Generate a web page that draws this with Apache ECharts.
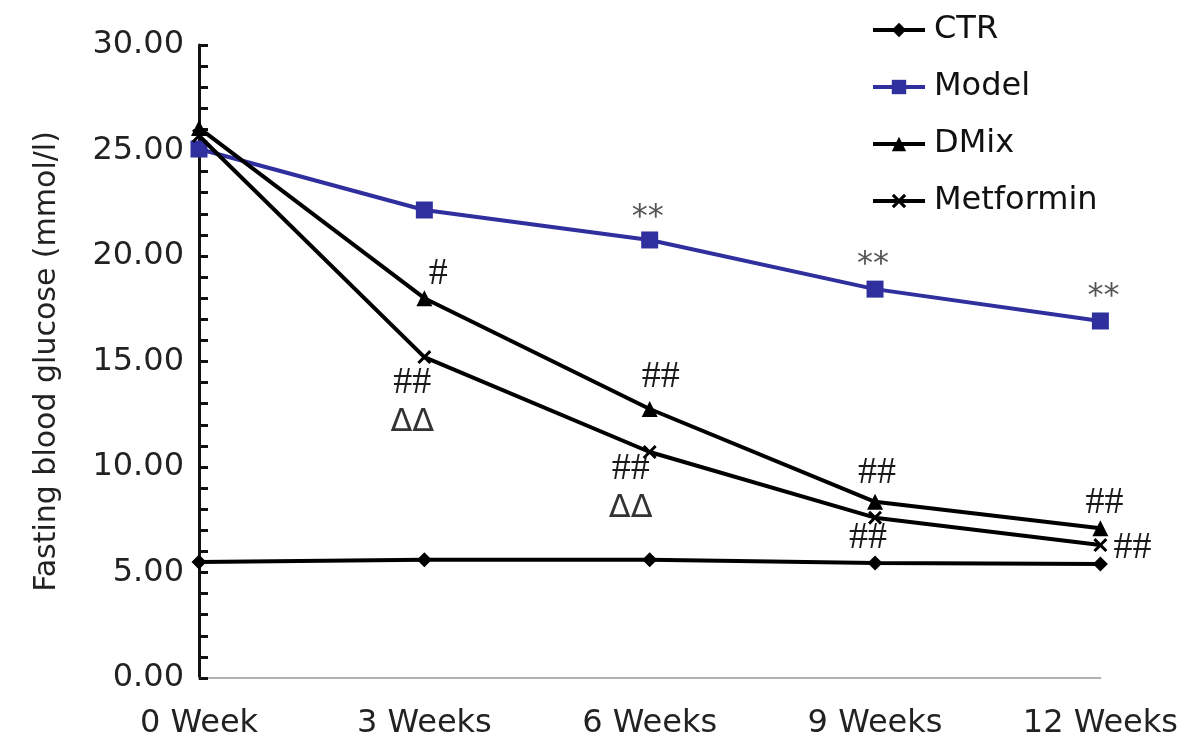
<!DOCTYPE html>
<html>
<head>
<meta charset="utf-8">
<script src="https://cdn.jsdelivr.net/npm/echarts@6/dist/echarts.min.js"></script>
<style>
html,body{margin:0;padding:0;background:#fff;}
#chart{width:1181px;height:755px;}
</style>
</head>
<body>
<div id="chart"></div>
<script>
const categories = ['0 Week', '3 Weeks', '6 Weeks', '9 Weeks', '12 Weeks'];
const ctrValues = [5.5, 5.6, 5.6, 5.45, 5.4];
const modelValues = [25.07, 22.18, 20.76, 18.43, 16.92];
const dmixValues = [26.07, 18.0, 12.75, 8.35, 7.1];
const metforminValues = [25.7, 15.21, 10.71, 7.6, 6.3];

const modelNotes = ['', '', '**', '**', '**'];
const dmixNotes = ['', '#', '##', '##', '##'];
const metforminNotes = ['', '##\nΔΔ', '##\nΔΔ', '##', '##'];

const modelOffsets = [[0,0],[0,0],[-2,-22],[-2,-24],[3,-24]];
const dmixOffsets = [[0,0],[14,-24],[11,-32],[2,-29],[4,-25]];
const metforminOffsets = [[0,0],[-12,46],[-19,37],[-7,20],[32,3]];

const sans = '"DejaVu Sans", "Liberation Sans", Arial, sans-serif';
const serif = '"Liberation Serif", "Times New Roman", serif';

const noteRich = {
  h: { fontFamily: serif, fontSize: 38, color: '#1a1a1a', lineHeight: 40 },
  d: { fontFamily: sans, fontSize: 32, color: '#333', lineHeight: 40 },
  s: { fontFamily: sans, fontSize: 32, color: '#555', lineHeight: 40 }
};

function toRich(text) {
  return text.split('\n').map(line => {
    if (line.indexOf('#') >= 0) return '{h|' + line + '}';
    if (line.indexOf('*') >= 0) return '{s|' + line + '}';
    return '{d|' + line + '}';
  }).join('\n');
}

function build(values, notes, offsets) {
  return values.map((v, i) => {
    if (!notes[i]) return v;
    return {
      value: v,
      label: {
        show: true,
        position: 'inside',
        offset: offsets[i],
        formatter: toRich(notes[i]),
        rich: noteRich
      }
    };
  });
}

const crossPath = 'path://M0,1.5 L1.5,0 L5,3.5 L8.5,0 L10,1.5 L6.5,5 L10,8.5 L8.5,10 L5,6.5 L1.5,10 L0,8.5 L3.5,5 Z';

const chart = echarts.init(document.getElementById('chart'));
chart.setOption({
  animation: false,
  backgroundColor: '#fff',
  grid: { left: 199, right: 77, top: 45, bottom: 77, containLabel: false },
  legend: {
    orient: 'vertical',
    left: 866,
    top: 9,
    itemGap: 25,
    itemWidth: 52,
    itemHeight: 18,
    lineStyle: { width: 4 },
    textStyle: { fontFamily: sans, fontSize: 32, color: '#111', padding: [0, 0, 0, 4] },
    data: ['CTR', 'Model', 'DMix', 'Metformin']
  },
  xAxis: {
    type: 'category',
    data: categories,
    boundaryGap: false,
    axisLine: { lineStyle: { color: '#b0b0b0', width: 2 } },
    axisTick: { show: false },
    axisLabel: { fontFamily: sans, fontSize: 32, color: '#222', margin: 30 }
  },
  yAxis: {
    type: 'value',
    min: 0,
    max: 30,
    interval: 5,
    name: 'Fasting blood glucose (mmol/l)',
    nameLocation: 'middle',
    nameGap: 137,
    nameTextStyle: { fontFamily: sans, fontSize: 30, color: '#222' },
    axisLine: { show: true, lineStyle: { color: '#111', width: 3 } },
    axisTick: { show: true, inside: true, length: 9, lineStyle: { color: '#111', width: 3 } },
    minorTick: { show: true, splitNumber: 5, length: 9, lineStyle: { color: '#111', width: 3 } },
    splitLine: { show: false },
    axisLabel: {
      fontFamily: sans, fontSize: 32, color: '#222', margin: 15,
      formatter: v => v.toFixed(2)
    }
  },
  series: [
    {
      name: 'CTR', type: 'line', data: ctrValues,
      symbol: 'diamond', symbolSize: 15,
      lineStyle: { color: '#000', width: 4 },
      itemStyle: { color: '#000' }, z: 3
    },
    {
      name: 'Model', type: 'line', data: build(modelValues, modelNotes, modelOffsets),
      symbol: 'rect', symbolSize: 17,
      lineStyle: { color: '#2f2f9e', width: 4 },
      itemStyle: { color: '#2f2f9e' }, z: 4
    },
    {
      name: 'DMix', type: 'line', data: build(dmixValues, dmixNotes, dmixOffsets),
      symbol: 'triangle', symbolSize: 16,
      lineStyle: { color: '#000', width: 4 },
      itemStyle: { color: '#000' }, z: 5
    },
    {
      name: 'Metformin', type: 'line', data: build(metforminValues, metforminNotes, metforminOffsets),
      symbol: crossPath, symbolSize: 14,
      lineStyle: { color: '#000', width: 4 },
      itemStyle: { color: '#000' }, z: 5
    }
  ]
});
</script>
</body>
</html>
